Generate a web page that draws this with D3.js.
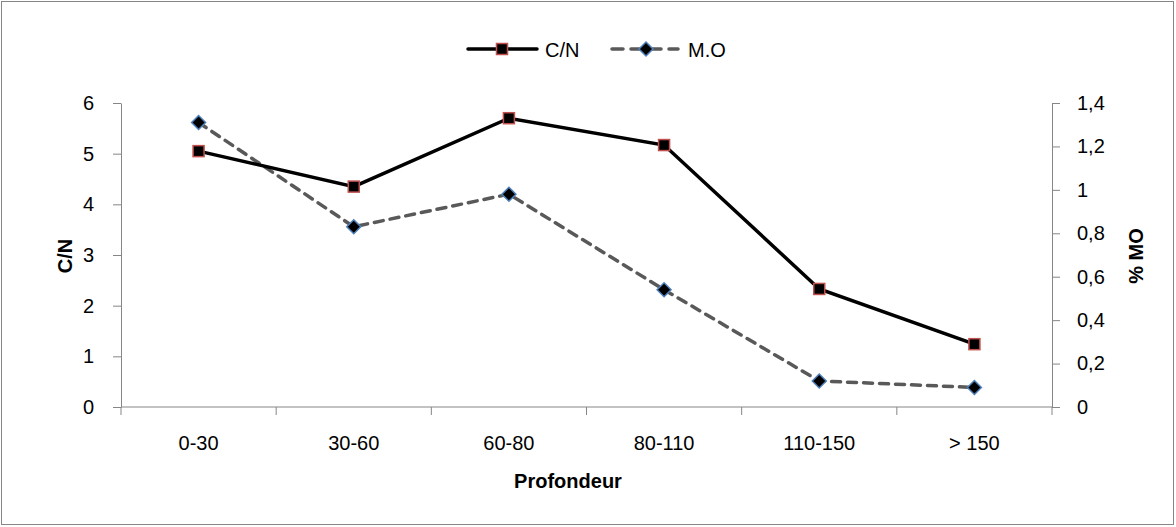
<!DOCTYPE html>
<html><head><meta charset="utf-8">
<script src="https://cdn.jsdelivr.net/npm/d3@7"></script>
<style>body{margin:0;background:#fff}svg{display:block}</style>
</head><body>
<script>
const categories = ["0-30","30-60","60-80","80-110","110-150","> 150"];
const cnValues = [5.05, 4.35, 5.70, 5.17, 2.33, 1.24];
const moValues = [1.31, 0.83, 0.98, 0.54, 0.12, 0.09];
const leftTicks = [0,1,2,3,4,5,6];
const rightTicks = [0,0.2,0.4,0.6,0.8,1,1.2,1.4];

const W=1176,H=527;
const FONT='"Liberation Sans",Arial,sans-serif';
const FS=20;
const svg=d3.select("body").append("svg").attr("width",W).attr("height",H);
svg.append("rect").attr("x",1.5).attr("y",1.5).attr("width",W-4).attr("height",H-4)
  .attr("fill","#fff").attr("stroke","#868686").attr("stroke-width",1);

const L=121,R=1052,T=103,B=407;
const x=d3.scaleBand().domain(categories).range([L,R]);
const yL=d3.scaleLinear().domain([0,6]).range([B,T]);
const yR=d3.scaleLinear().domain([0,1.4]).range([B,T]);
const axisCol="#868686";

function style(g){
  g.selectAll("path,line").attr("stroke",axisCol);
  g.selectAll("text").attr("font-family",FONT).attr("font-size",FS).attr("fill","#000");
}
const gl=svg.append("g").attr("transform",`translate(${L},0)`)
  .call(d3.axisLeft(yL).tickValues(leftTicks).tickSize(8).tickSizeOuter(0).tickPadding(19)
  .tickFormat(d3.format("d")));
style(gl);
const gr=svg.append("g").attr("transform",`translate(${R},0)`)
  .call(d3.axisRight(yR).tickValues(rightTicks).tickSize(8).tickSizeOuter(0).tickPadding(17)
  .tickFormat(d=>String(d).replace(".",",")));
style(gr);
// x axis with ticks at band boundaries
const gx=svg.append("g").attr("transform",`translate(0,${B})`);
gx.append("line").attr("x1",L).attr("x2",R).attr("stroke",axisCol);
const bounds=categories.map(c=>x(c)).concat([R]);
gx.selectAll("line.t").data(bounds).enter().append("line").attr("class","t")
  .attr("x1",d=>d).attr("x2",d=>d).attr("y1",0).attr("y2",8).attr("stroke",axisCol);
gx.selectAll("text").data(categories).enter().append("text")
  .attr("x",d=>x(d)+x.bandwidth()/2).attr("y",43).attr("text-anchor","middle")
  .attr("font-family",FONT).attr("font-size",FS).text(d=>d);

// titles
svg.append("text").attr("transform","translate(72,256) rotate(-90)").attr("text-anchor","middle")
  .attr("font-family",FONT).attr("font-size",FS).attr("font-weight","bold").text("C/N");
svg.append("text").attr("transform","translate(1143,256) rotate(-90)").attr("text-anchor","middle")
  .attr("font-family",FONT).attr("font-size",FS).attr("font-weight","bold").text("% MO");
svg.append("text").attr("x",568).attr("y",488).attr("text-anchor","middle")
  .attr("font-family",FONT).attr("font-size",FS).attr("font-weight","bold").text("Profondeur");

const cx=d=>x(d)+x.bandwidth()/2;
// M.O line
svg.append("path").datum(moValues).attr("fill","none").attr("stroke","#595959").attr("stroke-width",3.5)
  .attr("stroke-dasharray","9,7").attr("stroke-linecap","round")
  .attr("d",d3.line().x((d,i)=>cx(categories[i])).y(d=>yR(d)));
// C/N line
svg.append("path").datum(cnValues).attr("fill","none").attr("stroke","#000").attr("stroke-width",3.5)
  .attr("d",d3.line().x((d,i)=>cx(categories[i])).y(d=>yL(d)));

function square(g,px,py){g.append("rect").attr("x",px-5.5).attr("y",py-5.5).attr("width",11).attr("height",11)
  .attr("fill","#000").attr("stroke","#C0504D").attr("stroke-width",1.5);}
function diamond(g,px,py){g.append("path").attr("d",`M${px},${py-7}L${px+7},${py}L${px},${py+7}L${px-7},${py}Z`)
  .attr("fill","#000").attr("stroke","#4F81BD").attr("stroke-width",1.5);}
moValues.forEach((v,i)=>diamond(svg,cx(categories[i]),yR(v)));
cnValues.forEach((v,i)=>square(svg,cx(categories[i]),yL(v)));

// legend
const lg=svg.append("g");
lg.append("line").attr("x1",468).attr("x2",537).attr("y1",49).attr("y2",49).attr("stroke","#000").attr("stroke-width",3.5).attr("stroke-linecap","round");
square(lg,502,49);
lg.append("text").attr("x",545).attr("y",57).attr("font-family",FONT).attr("font-size",FS).text("C/N");
lg.append("line").attr("x1",612).attr("x2",678).attr("y1",49).attr("y2",49).attr("stroke","#595959").attr("stroke-width",3.5)
  .attr("stroke-dasharray","11,8").attr("stroke-linecap","round");
diamond(lg,646,49);
lg.append("text").attr("x",688).attr("y",57).attr("font-family",FONT).attr("font-size",FS).text("M.O");
</script>
</body></html>
